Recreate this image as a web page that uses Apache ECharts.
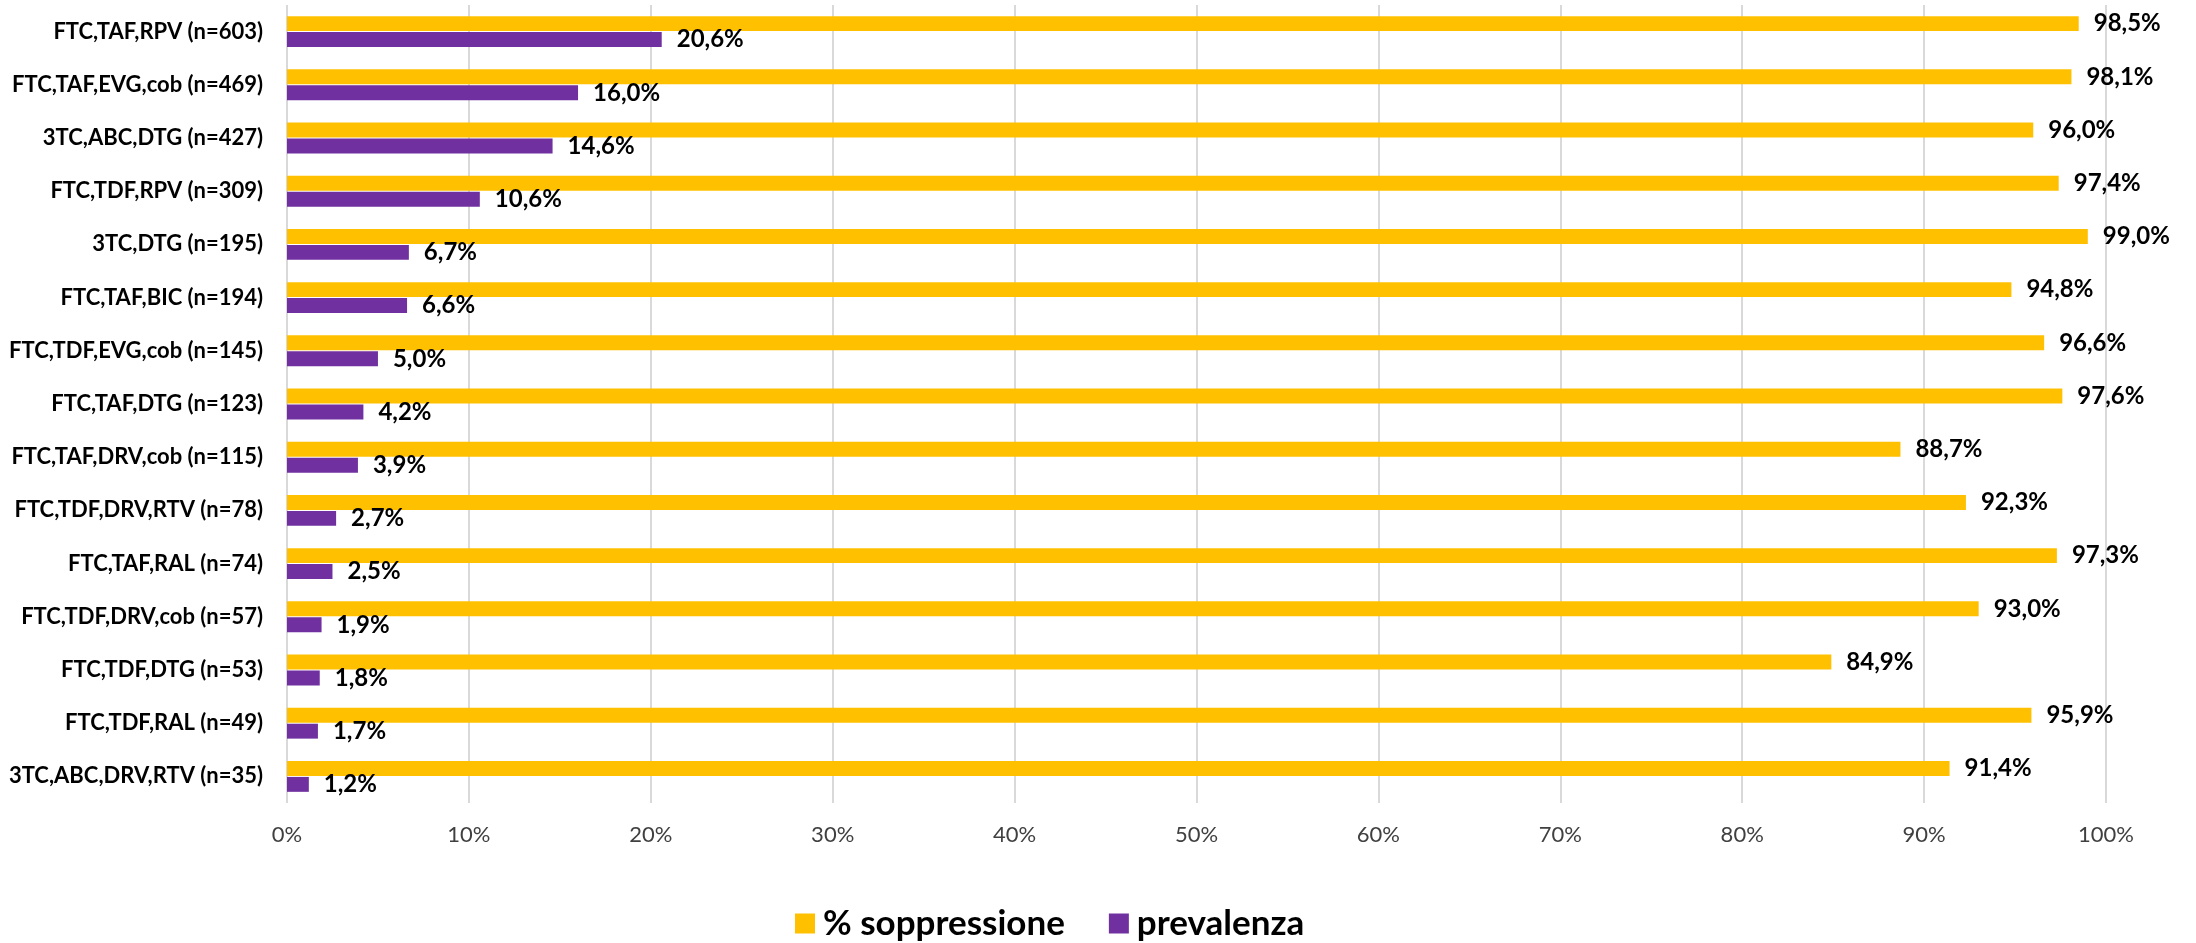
<!DOCTYPE html>
<html>
<head>
<meta charset="utf-8">
<script src="https://cdn.jsdelivr.net/npm/echarts@6/dist/echarts.min.js"></script>
<style>
html,body{margin:0;padding:0;background:#fff;}
#chart{width:2196px;height:943px;}
</style>
</head>
<body>
<div id="chart"></div>
<script>
const categories = [
  "FTC,TAF,RPV (n=603)",
  "FTC,TAF,EVG,cob (n=469)",
  "3TC,ABC,DTG (n=427)",
  "FTC,TDF,RPV (n=309)",
  "3TC,DTG (n=195)",
  "FTC,TAF,BIC (n=194)",
  "FTC,TDF,EVG,cob (n=145)",
  "FTC,TAF,DTG (n=123)",
  "FTC,TAF,DRV,cob (n=115)",
  "FTC,TDF,DRV,RTV (n=78)",
  "FTC,TAF,RAL (n=74)",
  "FTC,TDF,DRV,cob (n=57)",
  "FTC,TDF,DTG (n=53)",
  "FTC,TDF,RAL (n=49)",
  "3TC,ABC,DRV,RTV (n=35)"
];
const soppressione = [98.5, 98.1, 96.0, 97.4, 99.0, 94.8, 96.6, 97.6, 88.7, 92.3, 97.3, 93.0, 84.9, 95.9, 91.4];
const prevalenza = [20.6, 16.0, 14.6, 10.6, 6.7, 6.6, 5.0, 4.2, 3.9, 2.7, 2.5, 1.9, 1.8, 1.7, 1.2];
const seriesNames = ["% soppressione", "prevalenza"];
const xTicks = [0, 10, 20, 30, 40, 50, 60, 70, 80, 90, 100];

const FONT = "Lato";
const fmt = v => v.toFixed(1).replace('.', ',') + '%';

const chart = echarts.init(document.getElementById('chart'), null, {renderer: 'canvas'});
const labelCfg = {
  show: true,
  position: 'right',
  distance: 15,
  fontFamily: FONT,
  fontWeight: 'bold',
  fontSize: 24,
  color: '#000',
  formatter: p => fmt(p.value)
};
chart.setOption({
  animation: false,
  backgroundColor: '#fff',
  grid: {left: 287, right: 90, top: 5, bottom: 140, containLabel: false},
  xAxis: {
    type: 'value',
    min: xTicks[0],
    max: xTicks[xTicks.length - 1],
    interval: 10,
    axisLine: {show: false},
    axisTick: {show: false},
    splitLine: {show: true, lineStyle: {color: '#d9d9d9', width: 2}},
    axisLabel: {
      formatter: v => v + '%',
      fontFamily: FONT,
      fontSize: 22,
      color: '#404040',
      margin: 21
    }
  },
  yAxis: {
    type: 'category',
    data: categories,
    inverse: true,
    axisLine: {show: false},
    axisTick: {show: false},
    axisLabel: {
      fontFamily: FONT,
      fontWeight: 'bold',
      fontSize: 22,
      color: '#000',
      margin: 24
    }
  },
  legend: {
    left: 795,
    top: 906,
    padding: 0,
    itemWidth: 20,
    itemHeight: 20,
    itemGap: 44,
    icon: 'rect',
    textStyle: {fontFamily: FONT, fontWeight: 'bold', fontSize: 35, color: '#000', padding: [0, 0, 0, 3]},
    data: seriesNames
  },
  series: [
    {
      name: seriesNames[0],
      type: 'bar',
      data: soppressione,
      itemStyle: {color: '#FFC000'},
      barCategoryGap: '42%',
      barGap: '7%',
      label: labelCfg
    },
    {
      name: seriesNames[1],
      type: 'bar',
      data: prevalenza,
      itemStyle: {color: '#7030A0'},
      barCategoryGap: '42%',
      barGap: '7%',
      label: labelCfg
    }
  ]
});
</script>
</body>
</html>
